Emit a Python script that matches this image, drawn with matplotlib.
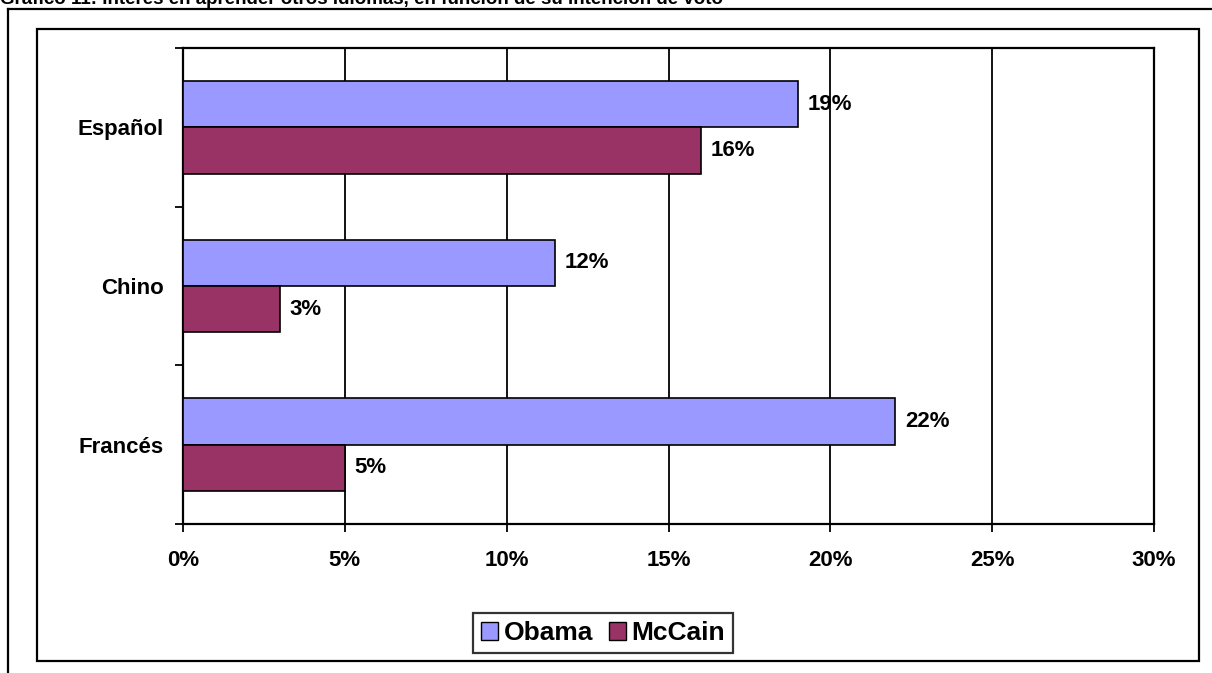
import numpy as np
import matplotlib
matplotlib.use('Agg')
import matplotlib.pyplot as plt
from matplotlib.lines import Line2D
from matplotlib.patches import Rectangle, Patch

plt.rcParams['font.family'] = ['Liberation Sans', 'DejaVu Sans']
plt.rcParams['font.weight'] = 'bold'

# data (percent)
idiomas = ['Español', 'Chino', 'Francés']
obama = [19, 11.5, 22]
mccain = [16, 3, 5]
obama_lbl = ['19%', '12%', '22%']
mccain_lbl = ['16%', '3%', '5%']
xticks = [0, 5, 10, 15, 20, 25, 30]

W, H = 1212, 673
fig = plt.figure(figsize=(W / 100, H / 100), dpi=100)

# heading, cut off at the top edge like in the source
fig.text(0.0, 1 - 4 / H, 'Gráfico 11: Interés en aprender otros idiomas, en función de su intención de voto',
         fontsize=13.5, fontweight='bold', ha='left', va='baseline')

# outer frame lines
fig.add_artist(Line2D([8 / W, 1], [1 - 9 / H, 1 - 9 / H], color='black', lw=1.6))
fig.add_artist(Line2D([8 / W, 8 / W], [0, 1 - 9 / H], color='black', lw=1.6))
# chart box
fig.add_artist(Rectangle((37 / W, 1 - 661 / H), (1199 - 37) / W, (661 - 29) / H,
                         fill=False, edgecolor='black', lw=1.6))

ax = fig.add_axes([183 / W, 1 - 524 / H, (1154 - 183) / W, (524 - 48) / H])

y = np.arange(len(idiomas))[::-1]
h = 0.293
c_ob = '#9999FF'
c_mc = '#993366'
ax.barh(y + h / 2, obama, height=h, color=c_ob, edgecolor='black', lw=1.2, zorder=3)
ax.barh(y - h / 2, mccain, height=h, color=c_mc, edgecolor='black', lw=1.2, zorder=3)

for yi, v, t in zip(y, obama, obama_lbl):
    ax.text(v + 0.3, yi + h / 2, t, va='center', ha='left', fontsize=16, fontweight='bold', zorder=4)
for yi, v, t in zip(y, mccain, mccain_lbl):
    ax.text(v + 0.3, yi - h / 2, t, va='center', ha='left', fontsize=16, fontweight='bold', zorder=4)

ax.set_xlim(0, 30)
ax.set_ylim(-0.5, 2.5)
ax.set_xticks(xticks)
ax.set_xticklabels([f'{v}%' for v in xticks], fontsize=16, fontweight='bold')
ax.xaxis.grid(True, color='black', lw=1.3, zorder=0)

ax.set_yticks([-0.5, 0.5, 1.5, 2.5])
ax.set_yticklabels([])
ax.set_yticks(y, minor=True)
ax.set_yticklabels(idiomas, minor=True, fontsize=16, fontweight='bold')
ax.tick_params(axis='y', which='minor', length=0, pad=14)
ax.tick_params(axis='y', which='major', length=6, width=1.3, direction='out')
ax.tick_params(axis='x', length=6, width=1.3, direction='out', pad=13)

for s in ax.spines.values():
    s.set_linewidth(1.6)

handles = [Patch(facecolor=c_ob, edgecolor='black', label='Obama'),
           Patch(facecolor=c_mc, edgecolor='black', label='McCain')]
leg = fig.legend(handles=handles, loc='center', bbox_to_anchor=(603 / W, 1 - 633 / H), ncol=2,
                 fontsize=19, frameon=True, fancybox=False, edgecolor='black',
                 handlelength=0.65, handleheight=0.65, handletextpad=0.2, columnspacing=0.6,
                 borderpad=0.3, borderaxespad=0)
leg.get_frame().set_linewidth(1.6)
for t in leg.get_texts():
    t.set_fontweight('bold')

fig.savefig('out.png', dpi=100)
